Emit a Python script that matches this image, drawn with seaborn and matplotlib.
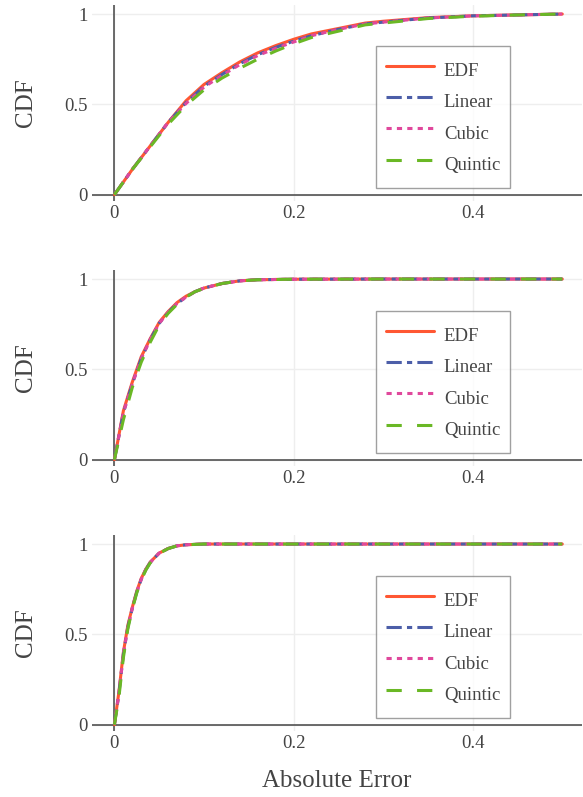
import numpy as np
import matplotlib
matplotlib.use('Agg')
import matplotlib.pyplot as plt
import seaborn as sns

sns.set_style("white")
plt.rcParams['font.family'] = ['Liberation Serif', 'DejaVu Serif']
plt.rcParams['text.color'] = '#444444'
plt.rcParams['axes.labelcolor'] = '#444444'
plt.rcParams['xtick.color'] = '#444444'
plt.rcParams['ytick.color'] = '#444444'

# data: absolute error (x) vs CDF (y) for each panel
x1 = [0, 0.02, 0.04, 0.06, 0.08, 0.10, 0.12, 0.14, 0.16, 0.18, 0.20, 0.22, 0.25, 0.28, 0.30, 0.35, 0.40, 0.45, 0.50]
edf1 = [0, 0.14, 0.27, 0.40, 0.52, 0.61, 0.675, 0.735, 0.785, 0.825, 0.86, 0.89, 0.92, 0.95, 0.96, 0.98, 0.99, 0.995, 1.0]
linear1 = [0, 0.14, 0.27, 0.40, 0.51, 0.60, 0.665, 0.725, 0.775, 0.815, 0.85, 0.88, 0.915, 0.945, 0.955, 0.978, 0.99, 0.995, 1.0]
cubic1 = [0, 0.14, 0.27, 0.40, 0.505, 0.595, 0.66, 0.72, 0.77, 0.81, 0.845, 0.88, 0.915, 0.945, 0.955, 0.978, 0.99, 0.995, 1.0]
quintic1 = [0, 0.14, 0.265, 0.39, 0.495, 0.58, 0.645, 0.70, 0.75, 0.795, 0.835, 0.87, 0.905, 0.94, 0.95, 0.975, 0.988, 0.995, 1.0]

x2 = [0, 0.01, 0.02, 0.03, 0.04, 0.05, 0.06, 0.07, 0.08, 0.09, 0.10, 0.12, 0.14, 0.16, 0.20, 0.30, 0.40, 0.50]
edf2 = [0, 0.27, 0.43, 0.57, 0.67, 0.76, 0.82, 0.87, 0.905, 0.93, 0.95, 0.975, 0.99, 0.996, 0.999, 1, 1, 1]
linear2 = [0, 0.26, 0.42, 0.56, 0.665, 0.755, 0.815, 0.865, 0.90, 0.93, 0.95, 0.975, 0.99, 0.996, 0.999, 1, 1, 1]
cubic2 = [0, 0.26, 0.42, 0.56, 0.665, 0.755, 0.815, 0.865, 0.90, 0.93, 0.95, 0.975, 0.99, 0.996, 0.999, 1, 1, 1]
quintic2 = [0, 0.22, 0.40, 0.54, 0.65, 0.745, 0.81, 0.86, 0.90, 0.93, 0.948, 0.975, 0.99, 0.996, 0.999, 1, 1, 1]

x3 = [0, 0.005, 0.01, 0.015, 0.02, 0.025, 0.03, 0.035, 0.04, 0.05, 0.06, 0.07, 0.08, 0.10, 0.20, 0.30, 0.40, 0.50]
edf3 = [0, 0.18, 0.40, 0.55, 0.65, 0.74, 0.81, 0.86, 0.90, 0.95, 0.975, 0.99, 0.996, 1, 1, 1, 1, 1]
linear3 = [0, 0.17, 0.39, 0.54, 0.645, 0.735, 0.805, 0.858, 0.898, 0.95, 0.975, 0.99, 0.996, 1, 1, 1, 1, 1]
cubic3 = [0, 0.17, 0.39, 0.54, 0.645, 0.735, 0.805, 0.858, 0.898, 0.95, 0.975, 0.99, 0.996, 1, 1, 1, 1, 1]
quintic3 = [0, 0.15, 0.37, 0.53, 0.64, 0.73, 0.80, 0.855, 0.895, 0.948, 0.975, 0.99, 0.996, 1, 1, 1, 1, 1]

methods = ['EDF', 'Linear', 'Cubic', 'Quintic']
panels = [
    (x1, [edf1, linear1, cubic1, quintic1]),
    (x2, [edf2, linear2, cubic2, quintic2]),
    (x3, [edf3, linear3, cubic3, quintic3]),
]

colors = {'EDF': '#FF5733', 'Linear': '#4C5EA8', 'Cubic': '#E0489C', 'Quintic': '#6AB825'}
styles = {'EDF': '-', 'Linear': (0, (5, 1.7, 1.7, 1.7)),
          'Cubic': (0, (1.7, 1.7)), 'Quintic': (0, (5, 5))}

fig = plt.figure(figsize=(5.83, 7.97), dpi=100)
W, H = 583, 797
left_px, right_px = 92, 582
tops = [5, 270, 535]
ph = 196

axes = []
for top in tops:
    ax = fig.add_axes([left_px / W, 1 - (top + ph) / H, (right_px - left_px) / W, ph / H])
    axes.append(ax)

for i, (ax, (x, ys)) in enumerate(zip(axes, panels)):
    ax.grid(True, color='#eeeeee', linewidth=1)
    ax.axhline(0, color='#444444', linewidth=1.1, zorder=1)
    ax.axvline(0, color='#444444', linewidth=1.1, zorder=1)
    for m, y in zip(methods, ys):
        sns.lineplot(x=x, y=y, ax=ax, color=colors[m], linewidth=2.2,
                     linestyle=styles[m], label=m, zorder=3)
    ax.set_xlim(-0.025, 0.522)
    ax.set_ylim(-0.035, 1.05)
    ax.set_xticks([0, 0.2, 0.4])
    ax.set_xticklabels(['0', '0.2', '0.4'])
    ax.set_yticks([0, 0.5, 1])
    ax.set_yticklabels(['0', '0.5', '1'])
    ax.tick_params(length=0, labelsize=13.5, pad=3)
    for s in ax.spines.values():
        s.set_visible(False)
    ax.set_ylabel('CDF', fontsize=18)
    ax.yaxis.set_label_coords(-0.112, 0.5)
    ax.set_xlabel('')
    leg = ax.legend(loc='lower left', bbox_to_anchor=(0.580, 0.066), borderaxespad=0,
                    fontsize=13.5, frameon=True, fancybox=False, handlelength=2.56,
                    handletextpad=0.55, labelspacing=0.1, borderpad=0.5,
                    handleheight=2.04)
    leg.get_frame().set_edgecolor('#888888')
    leg.get_frame().set_linewidth(1)
    for t in leg.get_texts():
        t.set_color('#444444')

axes[-1].set_xlabel('Absolute Error', fontsize=18, labelpad=13)

fig.savefig('out.png', dpi=100)
